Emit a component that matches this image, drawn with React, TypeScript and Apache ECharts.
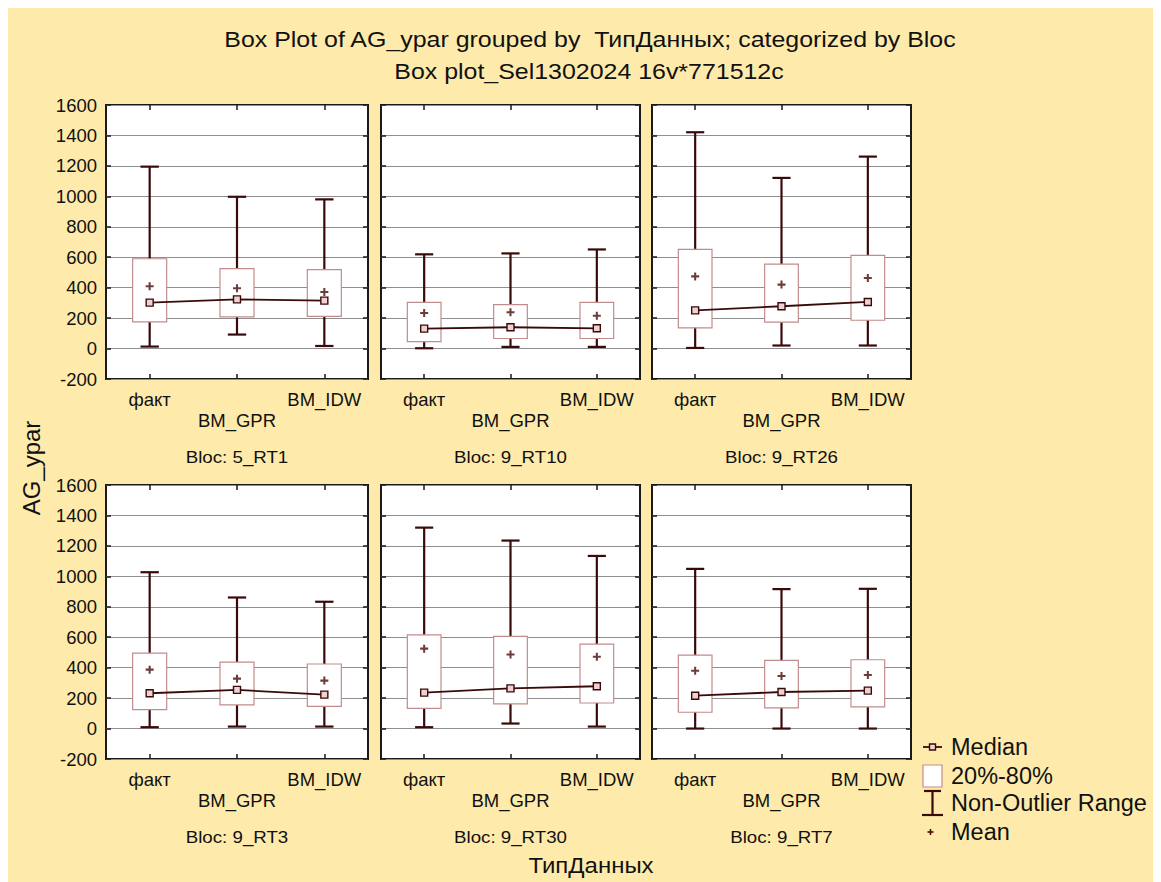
import React, { useEffect, useRef } from "react";
import * as echarts from "echarts";

const categories = ["факт", "BM_GPR", "BM_IDW"];
const blocs = ["5_RT1", "9_RT10", "9_RT26", "9_RT3", "9_RT30", "9_RT7"];
const yTicks = { min: -200, max: 1600, interval: 200 };

// per bloc: values for [факт, BM_GPR, BM_IDW]
const whiskerLow = [
  [13, 92, 17],
  [2, 11, 11],
  [4, 20, 20],
  [9, 13, 13],
  [9, 33, 13],
  [0, 0, 0],
];
const box20 = [
  [175, 208, 212],
  [46, 66, 66],
  [136, 173, 186],
  [125, 155, 146],
  [133, 162, 168],
  [107, 136, 142],
];
const medians = [
  [302, 323, 315],
  [131, 140, 133],
  [251, 278, 306],
  [232, 254, 223],
  [236, 264, 278],
  [216, 240, 249],
];
const box80 = [
  [590, 525, 518],
  [304, 289, 304],
  [651, 555, 612],
  [496, 437, 424],
  [616, 605, 555],
  [483, 448, 452],
];
const whiskerHigh = [
  [1195, 997, 980],
  [619, 625, 651],
  [1421, 1121, 1261],
  [1027, 861, 833],
  [1320, 1235, 1134],
  [1049, 916, 918],
];
const means = [
  [409, 396, 372],
  [234, 238, 216],
  [474, 420, 463],
  [387, 328, 315],
  [525, 487, 472],
  [380, 345, 352],
];

const legendItems = ["Median", "20%-80%", "Non-Outlier Range", "Mean"];

const FONT = "'Liberation Sans', Arial, sans-serif";
const DARK = "#3A0A0A";
const BOXC = "#C28C8C";
const BG = "#FEEBAB";

const gridLefts = [98, 373, 644];
const gridWidths = [262, 259, 259];
const gridTops = [97, 477];
const GRID_H = 274;

function App() {
  const ref = useRef<HTMLDivElement>(null);
  useEffect(() => {
    if (!ref.current) return;
    const chart = echarts.init(ref.current, null, { renderer: "svg" });

    const grids: any[] = [];
    const xAxes: any[] = [];
    const yAxes: any[] = [];
    const series: any[] = [];
    const graphics: any[] = [];
    const tickStyle = { color: "#1a1a1a", width: 1.5 };

    blocs.forEach((bloc, i) => {
      const col = i % 3;
      const row = Math.floor(i / 3);
      grids.push({
        left: gridLefts[col],
        top: gridTops[row],
        width: gridWidths[col],
        height: GRID_H,
        show: true,
        backgroundColor: "#ffffff",
        borderColor: "#1a1a1a",
        borderWidth: 2,
        containLabel: false,
      });
      xAxes.push({
        type: "category",
        gridIndex: i,
        position: "bottom",
        data: categories,
        boundaryGap: true,
        axisLine: { show: false, onZero: false },
        axisTick: { show: true, inside: true, alignWithLabel: true, length: 5, lineStyle: tickStyle },
        axisLabel: {
          show: true,
          margin: 10,
          fontFamily: FONT,
          fontSize: 18.5,
          color: "#111",
          lineHeight: 21,
          interval: 0,
          formatter: (v: string, idx: number) => (idx === 1 ? "\n" + v : v),
        },
        splitLine: { show: false },
      });
      xAxes.push({
        type: "category",
        gridIndex: i,
        position: "top",
        data: categories,
        boundaryGap: true,
        axisLine: { show: false, onZero: false },
        axisTick: { show: true, inside: true, alignWithLabel: true, length: 5, lineStyle: tickStyle },
        axisLabel: { show: false },
        splitLine: { show: false },
      });
      yAxes.push({
        type: "value",
        gridIndex: i,
        position: "left",
        min: yTicks.min,
        max: yTicks.max,
        interval: yTicks.interval,
        axisLine: { show: false, onZero: false },
        axisTick: { show: true, inside: true, length: 5, lineStyle: tickStyle },
        axisLabel: {
          show: col === 0,
          margin: 9,
          fontFamily: FONT,
          fontSize: 18.5,
          color: "#111",
          formatter: (v: number) => String(v),
        },
        splitLine: { show: true, lineStyle: { color: "#8f8f8f", width: 1.2 } },
      });
      yAxes.push({
        type: "value",
        gridIndex: i,
        position: "right",
        min: yTicks.min,
        max: yTicks.max,
        interval: yTicks.interval,
        axisLine: { show: false, onZero: false },
        axisTick: { show: true, inside: true, length: 5, lineStyle: tickStyle },
        axisLabel: { show: false },
        splitLine: { show: false },
      });

      const boxData = categories.map((_, k) => [
        k,
        whiskerLow[i][k],
        box20[i][k],
        box80[i][k],
        whiskerHigh[i][k],
      ]);

      series.push({
        type: "custom",
        name: "box" + i,
        xAxisIndex: 2 * i,
        yAxisIndex: 2 * i,
        z: 2,
        data: boxData,
        encode: { x: 0, y: [1, 2, 3, 4] },
        renderItem: (params: any, api: any) => {
          const x = api.value(0);
          const lo = api.coord([x, api.value(1)]);
          const q1 = api.coord([x, api.value(2)]);
          const q3 = api.coord([x, api.value(3)]);
          const hi = api.coord([x, api.value(4)]);
          const band = api.size([1, 0])[0];
          const bw = band * 0.39;
          const cw = band * 0.21;
          const ws = { stroke: DARK, lineWidth: 2.2, fill: null };
          return {
            type: "group",
            children: [
              { type: "line", shape: { x1: lo[0], y1: lo[1], x2: hi[0], y2: hi[1] }, style: ws },
              { type: "line", shape: { x1: hi[0] - cw / 2, y1: hi[1], x2: hi[0] + cw / 2, y2: hi[1] }, style: ws },
              { type: "line", shape: { x1: lo[0] - cw / 2, y1: lo[1], x2: lo[0] + cw / 2, y2: lo[1] }, style: ws },
              {
                type: "rect",
                shape: { x: q3[0] - bw / 2, y: q3[1], width: bw, height: q1[1] - q3[1] },
                style: { fill: "#ffffff", stroke: BOXC, lineWidth: 1.2 },
              },
            ],
          };
        },
      });

      series.push({
        type: "line",
        name: "median" + i,
        xAxisIndex: 2 * i,
        yAxisIndex: 2 * i,
        z: 4,
        data: medians[i],
        symbol: "rect",
        symbolSize: 7,
        showSymbol: true,
        lineStyle: { color: DARK, width: 1.8 },
        itemStyle: { color: "#EED2D2", borderColor: DARK, borderWidth: 1.4 },
      });

      series.push({
        type: "scatter",
        name: "mean" + i,
        xAxisIndex: 2 * i,
        yAxisIndex: 2 * i,
        z: 5,
        data: means[i],
        symbol: "path://M2.6,0H4.4V2.6H7V4.4H4.4V7H2.6V4.4H0V2.6H2.6Z",
        symbolSize: 8,
        itemStyle: { color: "#4A0A0A" },
      });

      graphics.push({
        type: "text",
        x: gridLefts[col] + gridWidths[col] / 2,
        y: gridTops[row] + GRID_H + 78,
        scaleX: 1.1,
        style: {
          text: "Bloc: " + bloc,
          font: `17px ${FONT}`,
          fill: "#111",
          textAlign: "center",
          textVerticalAlign: "middle",
        },
      });
    });

    // titles
    graphics.push({
      type: "text",
      x: 582,
      y: 32,
      scaleX: 1.16,
      style: {
        text: "Box Plot of AG_ypar grouped by  ТипДанных; categorized by Bloc",
        font: `21.5px ${FONT}`,
        fill: "#111",
        textAlign: "center",
        textVerticalAlign: "middle",
      },
    });
    graphics.push({
      type: "text",
      x: 581,
      y: 64,
      scaleX: 1.16,
      style: {
        text: "Box plot_Sel1302024 16v*771512c",
        font: `21.5px ${FONT}`,
        fill: "#111",
        textAlign: "center",
        textVerticalAlign: "middle",
      },
    });
    // axis names
    graphics.push({
      type: "text",
      x: 23,
      y: 460,
      rotation: Math.PI / 2,
      style: {
        text: "AG_ypar",
        font: `24px ${FONT}`,
        fill: "#111",
        textAlign: "center",
        textVerticalAlign: "middle",
      },
    });
    graphics.push({
      type: "text",
      x: 583,
      y: 857,
      scaleX: 1.09,
      style: {
        text: "ТипДанных",
        font: `22px ${FONT}`,
        fill: "#111",
        textAlign: "center",
        textVerticalAlign: "middle",
      },
    });

    // legend
    const lx = 943;
    const ly = [739, 768, 795, 824];
    legendItems.forEach((t, k) => {
      graphics.push({
        type: "text",
        x: lx,
        y: ly[k],
        style: {
          text: t,
          font: `23.5px ${FONT}`,
          fill: "#111",
          textAlign: "left",
          textVerticalAlign: "middle",
        },
      });
    });
    graphics.push({ type: "line", shape: { x1: 915, y1: ly[0], x2: 934, y2: ly[0] }, style: { stroke: DARK, lineWidth: 1.8 } });
    graphics.push({ type: "rect", shape: { x: 921.5, y: ly[0] - 3, width: 6, height: 6 }, style: { fill: "#EED2D2", stroke: DARK, lineWidth: 1.4 } });
    graphics.push({ type: "rect", shape: { x: 915, y: ly[1] - 11, width: 19, height: 22 }, style: { fill: "#ffffff", stroke: BOXC, lineWidth: 1.2 } });
    graphics.push({ type: "line", shape: { x1: 924.5, y1: ly[2] - 12, x2: 924.5, y2: ly[2] + 12 }, style: { stroke: DARK, lineWidth: 2.2 } });
    graphics.push({ type: "line", shape: { x1: 916, y1: ly[2] - 12, x2: 933, y2: ly[2] - 12 }, style: { stroke: DARK, lineWidth: 2.2 } });
    graphics.push({ type: "line", shape: { x1: 914, y1: ly[2] + 12, x2: 935, y2: ly[2] + 12 }, style: { stroke: DARK, lineWidth: 2.2 } });
    graphics.push({ type: "line", shape: { x1: 919.5, y1: ly[3], x2: 925.5, y2: ly[3] }, style: { stroke: "#4A0A0A", lineWidth: 1.6 } });
    graphics.push({ type: "line", shape: { x1: 922.5, y1: ly[3] - 3, x2: 922.5, y2: ly[3] + 3 }, style: { stroke: "#4A0A0A", lineWidth: 1.6 } });

    chart.setOption({
      animation: false,
      backgroundColor: BG,
      grid: grids,
      xAxis: xAxes,
      yAxis: yAxes,
      series,
      graphic: graphics,
    });
    return () => chart.dispose();
  }, []);
  return <div ref={ref} style={{ width: 1153, height: 874 }} />;
}

export default App;
